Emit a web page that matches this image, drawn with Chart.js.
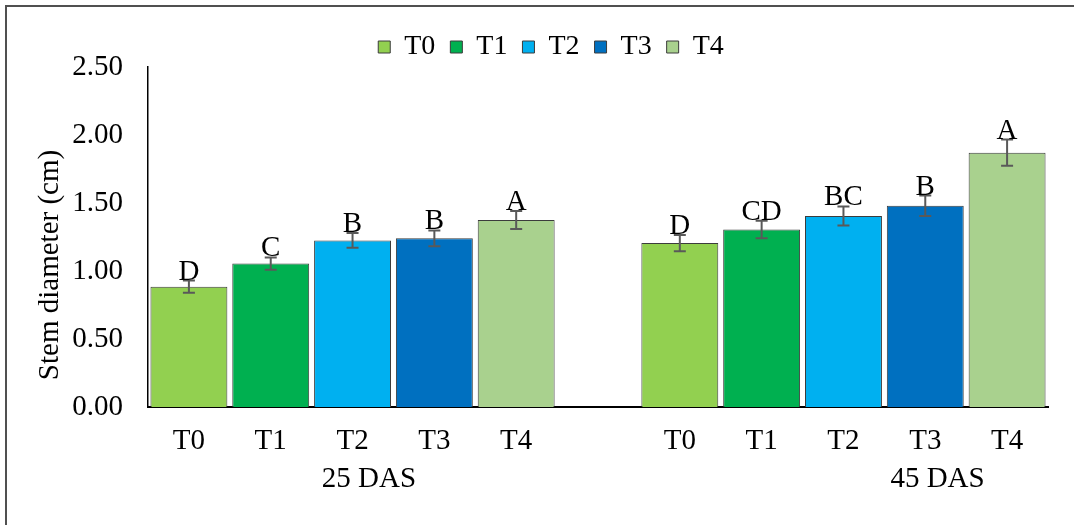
<!DOCTYPE html>
<html>
<head>
<meta charset="utf-8">
<script src="https://cdn.jsdelivr.net/npm/chart.js@4.4.1/dist/chart.umd.min.js"></script>
<style>
  html, body { margin: 0; padding: 0; background: #fff; overflow: hidden; }
  #frame { position: absolute; left: 5px; top: 5px; width: 1200px; height: 600px;
           border: 2px solid #505050; box-sizing: border-box; }
  #wrap { position: absolute; left: 0; top: 0; width: 1074px; height: 525px; }
</style>
</head>
<body>
<div id="frame"></div>
<div id="wrap"><canvas id="c" width="1074" height="525"></canvas></div>
<script>
// Stem diameter (cm) per treatment at two sampling dates
const treatments = ['T0', 'T1', 'T2', 'T3', 'T4'];
const stages = ['25 DAS', '45 DAS'];
const diam25 = [0.885, 1.055, 1.225, 1.24, 1.375];
const diam45 = [1.205, 1.305, 1.405, 1.48, 1.87];
const err25 = [0.045, 0.045, 0.054, 0.058, 0.066];
const err45 = [0.059, 0.064, 0.070, 0.075, 0.096];
const letters25 = ['D', 'C', 'B', 'B', 'A'];
const letters45 = ['D', 'CD', 'BC', 'B', 'A'];
const yTicks = [0, 0.5, 1.0, 1.5, 2.0, 2.5];
const colors = ['#92D050', '#00B050', '#00B0F0', '#0070C0', '#A9D18E'];

const FONT = 'Liberation Serif, Times New Roman, serif';

// category slots: five treatments, an empty spacer, five treatments
const categories = [...treatments, '', ...treatments];
const gapSlots = treatments.length + 1;

const datasets = treatments.map((t, k) => ({
  label: t,
  data: categories.map((_, i) => i === k ? diam25[k] : (i === k + gapSlots ? diam45[k] : null)),
  errors: categories.map((_, i) => i === k ? err25[k] : (i === k + gapSlots ? err45[k] : null)),
  letters: categories.map((_, i) => i === k ? letters25[k] : (i === k + gapSlots ? letters45[k] : null)),
  backgroundColor: colors[k],
  borderColor: '#3c3c3c',
  borderWidth: 1,
  grouped: false,
  barPercentage: 0.94,
  categoryPercentage: 1.0
}));

// keeps the legend strip compact above the plot
const legendHeight = {
  id: 'legendHeight',
  afterInit(chart) {
    const lg = chart.legend;
    if (!lg) return;
    const fit = lg.fit.bind(lg);
    lg.fit = function () { fit(); this.height = 49; };
  }
};

// error bars with significance letters on top
const errorBars = {
  id: 'errorBars',
  afterDatasetsDraw(chart) {
    const ctx = chart.ctx;
    const y = chart.scales.y;
    ctx.save();
    chart.data.datasets.forEach((ds, di) => {
      const meta = chart.getDatasetMeta(di);
      ds.data.forEach((v, i) => {
        if (v === null) return;
        const bar = meta.data[i];
        const e = ds.errors[i];
        const yt = y.getPixelForValue(v + e);
        const yb = y.getPixelForValue(v - e);
        ctx.strokeStyle = '#595959';
        ctx.lineWidth = 2;
        ctx.beginPath();
        ctx.moveTo(bar.x, yt); ctx.lineTo(bar.x, yb);
        ctx.moveTo(bar.x - 6, yt); ctx.lineTo(bar.x + 6, yt);
        ctx.moveTo(bar.x - 6, yb); ctx.lineTo(bar.x + 6, yb);
        ctx.stroke();
        ctx.fillStyle = '#000';
        ctx.font = '29px ' + FONT;
        ctx.textAlign = 'center';
        ctx.textBaseline = 'alphabetic';
        ctx.fillText(ds.letters[i], bar.x, yt - 1);
      });
    });
    ctx.restore();
  }
};

// sampling-date captions under the treatment ticks, and the y-axis title
const captions = {
  id: 'captions',
  afterDraw(chart, args, opts) {
    const ctx = chart.ctx;
    const x = chart.scales.x;
    const area = chart.chartArea;
    ctx.save();
    ctx.fillStyle = '#000';
    ctx.font = '29px ' + FONT;
    ctx.textAlign = 'center';
    ctx.textBaseline = 'middle';
    stages.forEach((s, i) => {
      ctx.fillText(s, x.getPixelForValue(opts.stageAt[i]), area.bottom + 72);
    });
    ctx.translate(area.left - 98, (area.top + area.bottom) / 2 + 28);
    ctx.rotate(-Math.PI / 2);
    ctx.fillText('Stem diameter (cm)', 0, 0);
    ctx.restore();
  }
};

new Chart(document.getElementById('c'), {
  type: 'bar',
  data: { labels: categories, datasets },
  plugins: [legendHeight, errorBars, captions],
  options: {
    responsive: false,
    animation: false,
    devicePixelRatio: 1,
    layout: { padding: { left: 54, right: 26, top: 18, bottom: 0 } },
    plugins: {
      tooltip: { enabled: false },
      captions: { stageAt: [2.2, 9.15] },
      legend: {
        position: 'top',
        labels: {
          font: { family: FONT, size: 28 },
          color: '#000',
          boxWidth: 12,
          boxHeight: 12,
          padding: 15
        }
      }
    },
    scales: {
      x: {
        grid: { display: false, drawTicks: false },
        border: { display: true, color: '#000', width: 2 },
        ticks: { color: '#000', font: { family: FONT, size: 29 }, padding: 17, maxRotation: 0, autoSkip: false },
        afterFit(scale) { scale.height = 118; }
      },
      y: {
        min: 0,
        max: 2.5,
        grid: { display: false, drawTicks: false },
        border: { display: true, color: '#000', width: 1.5 },
        afterBuildTicks(scale) { scale.ticks = yTicks.map(v => ({ value: v })); },
        ticks: {
          color: '#000',
          font: { family: FONT, size: 29 },
          padding: 25,
          callback: v => Number(v).toFixed(2)
        },
        afterFit(scale) { scale.width = 94; }
      }
    }
  }
});
</script>
</body>
</html>
